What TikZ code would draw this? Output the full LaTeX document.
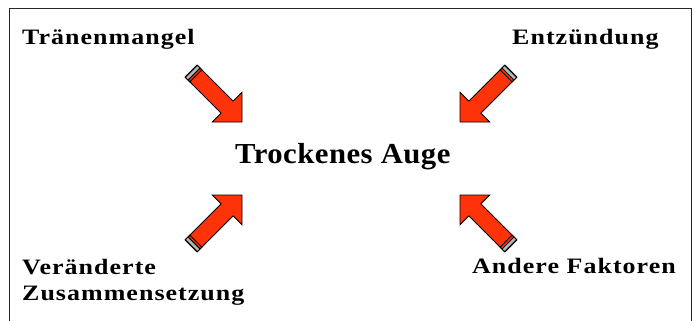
\documentclass[tikz,border=0pt]{standalone}
\usepackage{fontspec}
\setmainfont{Liberation Serif}
\newfontfamily\lblfont[LetterSpace=4]{Liberation Serif}
\newfontfamily\titlefont[LetterSpace=1.5]{Liberation Serif}
\newcommand{\lbltext}[1]{\scalebox{1.18}[1]{\lblfont\bfseries\fontsize{22}{22}\selectfont #1}}
\newcommand{\ttltext}[1]{\scalebox{1.06}[1]{\titlefont\bfseries\fontsize{29}{29}\selectfont #1}}
\definecolor{arrowred}{RGB}{255,51,10}
\tikzset{
  lbl/.style={inner sep=0pt, anchor=base west},
  fatarrow/.pic={
    \filldraw[fill=arrowred, draw=black, line width=0.8pt, line join=miter]
      (0,0) -- (-21pt,21pt) -- (-21pt,8.5pt) -- (-72pt,8.5pt) -- (-72pt,-8.5pt)
      -- (-21pt,-8.5pt) -- (-21pt,-21pt) -- cycle;
    \fill[gray!55] (-72pt,-8.5pt) rectangle (-68pt,8.5pt);
    \draw[black!80, line width=1.1pt] (-71.5pt,-8.5pt) -- (-71.5pt,8.5pt);
    \draw[black, line width=0.9pt] (-67.8pt,-8.5pt) -- (-67.8pt,8.5pt);
    \draw[black, line width=0.9pt] (-65.3pt,-8.5pt) -- (-65.3pt,8.5pt);
    \draw[black, line width=0.8pt] (-72pt,-8.5pt) -- (-72pt,8.5pt) (-72pt,8.5pt) -- (-64pt,8.5pt) (-72pt,-8.5pt) -- (-64pt,-8.5pt);
  }
}
\begin{document}
\begin{tikzpicture}[x=1pt,y=-1pt]
\useasboundingbox (0,0) rectangle (694,321);
\fill[white] (0,0) rectangle (694,321);
\draw[line width=1pt, black!85] (9,330) -- (9,9) -- (691,9) -- (691,330);

\coordinate (t1) at (242,122);
\coordinate (t2) at (460,122);
\coordinate (t3) at (242,195);
\coordinate (t4) at (460,195);
\pic[rotate=-45] (a1) at (t1) {fatarrow};
\pic[rotate=-135] (a2) at (t2) {fatarrow};
\pic[rotate=45] (a3) at (t3) {fatarrow};
\pic[rotate=135] (a4) at (t4) {fatarrow};

\node[lbl] (n1) at (22,45) {\lbltext{Tränenmangel}};
\node[lbl] (n2) at (512,45) {\lbltext{Entzündung}};
\node[lbl] (c) at (235,163) {\ttltext{Trockenes Auge}};
\node[lbl] (n3a) at (22,274) {\lbltext{Veränderte}};
\node[lbl] (n3b) at (22,300) {\lbltext{Zusammensetzung}};
\node[lbl] (n4) at (472,273) {\lbltext{Andere Faktoren}};
\end{tikzpicture}
\end{document}
